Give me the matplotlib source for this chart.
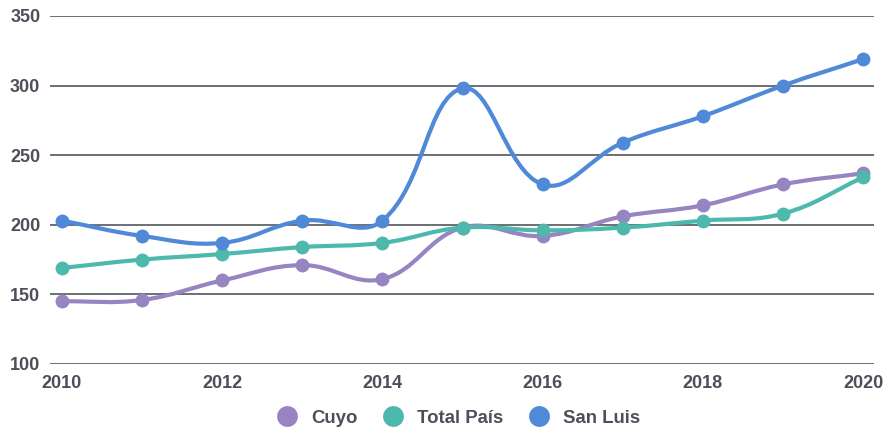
import numpy as np
from matplotlib import pyplot as plt
from matplotlib.path import Path
from matplotlib.patches import PathPatch
from matplotlib.lines import Line2D

plt.rcParams['font.family'] = ['Liberation Sans', 'DejaVu Sans']

years = [2010, 2011, 2012, 2013, 2014, 2015, 2016, 2017, 2018, 2019, 2020]
cuyo = [145, 146, 160, 171, 161, 198, 192, 206, 214, 229, 237]
total_pais = [169, 175, 179, 184, 187, 198, 196, 198, 203, 208, 234]
san_luis = [203, 192, 187, 203, 203, 298, 229, 259, 278, 300, 319]

names = ['Cuyo', 'Total País', 'San Luis']
colors = ['#9785c2', '#4db8ac', '#5089d8']
series = [cuyo, total_pais, san_luis]

# pixel scale, used so the spline looks like the chart.js one
sx, sy = 80.1, 1.392
tension = 0.4


def spline_path(xs, ys):
    px = np.array(xs, float) * sx
    py = np.array(ys, float) * sy
    n = len(px)
    cin, cout = [], []
    for i in range(n):
        p = (px[max(i - 1, 0)], py[max(i - 1, 0)])
        c = (px[i], py[i])
        q = (px[min(i + 1, n - 1)], py[min(i + 1, n - 1)])
        d01 = np.hypot(c[0] - p[0], c[1] - p[1])
        d12 = np.hypot(q[0] - c[0], q[1] - c[1])
        tot = d01 + d12
        s01 = d01 / tot if tot else 0
        s12 = d12 / tot if tot else 0
        fa, fb = tension * s01, tension * s12
        cin.append((c[0] - fa * (q[0] - p[0]), c[1] - fa * (q[1] - p[1])))
        cout.append((c[0] + fb * (q[0] - p[0]), c[1] + fb * (q[1] - p[1])))
    verts = [(px[0], py[0])]
    codes = [Path.MOVETO]
    for i in range(1, n):
        verts += [cout[i - 1], cin[i], (px[i], py[i])]
        codes += [Path.CURVE4] * 3
    verts = [(a / sx, b / sy) for a, b in verts]
    return Path(verts, codes)


fig = plt.figure(figsize=(8.87, 4.30), dpi=100)
ax = fig.add_axes([50 / 887, 1 - 364 / 430, 824 / 887, 348 / 430])

for k, (vals, col) in enumerate(zip(series, colors)):
    ax.add_patch(PathPatch(spline_path(years, vals), fill=False, edgecolor=col,
                           lw=3.0, capstyle='round', zorder=3 + k))
    ax.plot(years, vals, 'o', color=col, ms=10, mec='none', zorder=3 + k)

ax.set_xlim(2010 - 12 / sx, 2020 + 11 / sx)
ax.set_ylim(100, 350)
ax.set_yticks(range(100, 351, 50))
ax.set_xticks(range(2010, 2021, 2))
ax.grid(axis='y', color='#53575e', lw=1.2, zorder=1)
for s in ax.spines.values():
    s.set_visible(False)
ax.tick_params(length=0, labelsize=13, labelcolor='#4e4f5a')
ax.tick_params(axis='y', pad=7)
ax.tick_params(axis='x', pad=8)
for lab in ax.get_xticklabels() + ax.get_yticklabels():
    lab.set_fontweight('bold')

handles = [Line2D([], [], ls='none', marker='o', color=c, ms=15, mec='none') for c in colors]
leg = fig.legend(handles, names, loc='center', bbox_to_anchor=(454 / 887, 1 - 418 / 430),
                 ncol=3, frameon=False, handletextpad=0.3, columnspacing=0.9,
                 prop={'weight': 'bold', 'size': 13.4})
for t in leg.get_texts():
    t.set_color('#4e4f5a')

fig.savefig('out.png', dpi=100)
